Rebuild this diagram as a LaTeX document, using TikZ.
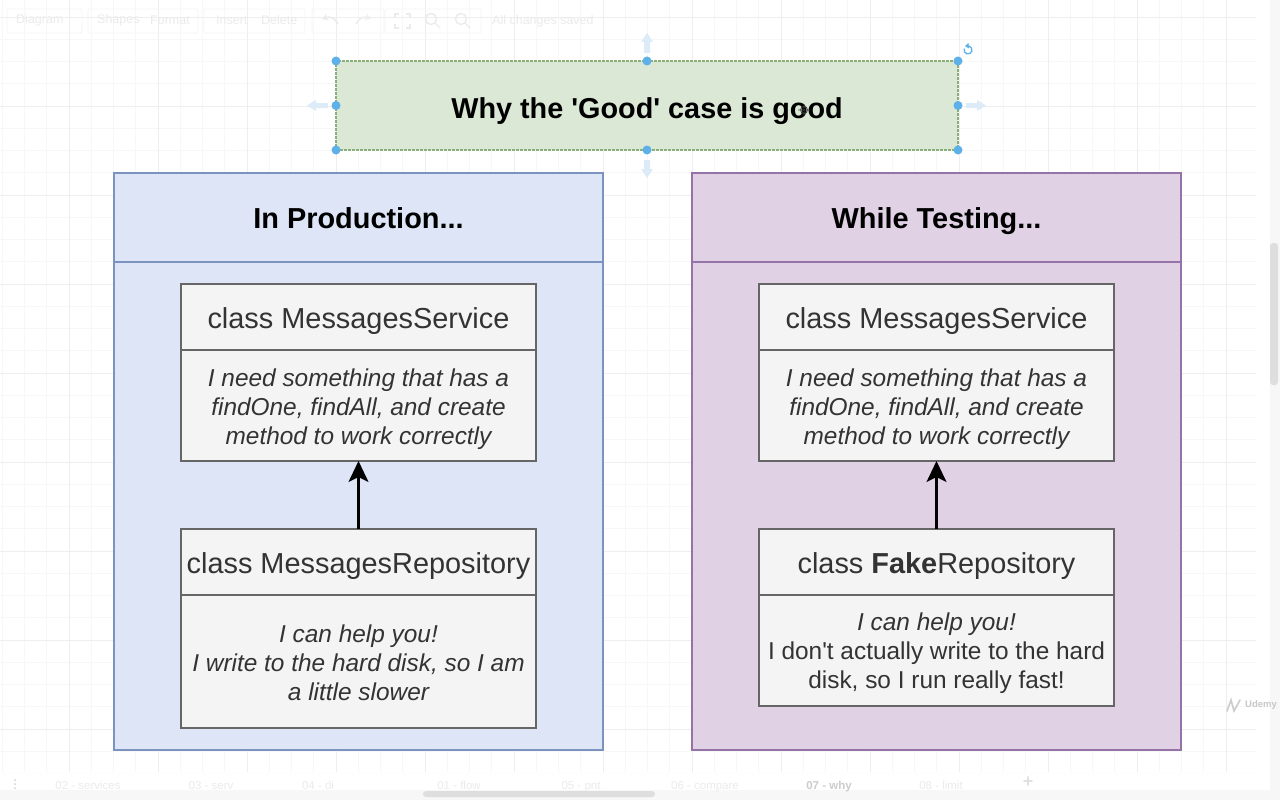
\documentclass[tikz,border=0pt]{standalone}
\usepackage{fontspec}
\setmainfont{Liberation Sans}
\usetikzlibrary{arrows.meta,positioning}
\definecolor{gridminor}{HTML}{F7F7F7}
\definecolor{gridmajor}{HTML}{EEEEEE}
\definecolor{uitext}{HTML}{EBEBEB}
\definecolor{handleblue}{HTML}{5DB1E8}
\definecolor{ghost}{HTML}{DCEBF7}
\definecolor{HeadBlueS}{HTML}{7C93BF}
\definecolor{HeadBlueF}{HTML}{DDE5F7}
\definecolor{HeadPurpleS}{HTML}{9673A6}
\definecolor{HeadPurpleF}{HTML}{E0D2E4}
\definecolor{ClassS}{HTML}{666666}
\definecolor{ClassF}{HTML}{F4F4F4}
\definecolor{ClassT}{HTML}{333333}
\definecolor{GreenS}{HTML}{8AAF78}
\definecolor{GreenF}{HTML}{DCE8D6}
\tikzset{
  boxbase/.style={draw, line width=2pt, anchor=north west, inner sep=0pt, outer sep=0pt, align=center},
  titlebox/.style={boxbase, text=black, font=\fontsize{28.9}{32}\selectfont\bfseries, text height=21pt, text depth=0pt},
  headblue/.style={titlebox, draw=HeadBlueS, fill=HeadBlueF},
  headpurple/.style={titlebox, draw=HeadPurpleS, fill=HeadPurpleF},
  classbox/.style={boxbase, draw=ClassS, fill=ClassF, text=ClassT, minimum width=355pt,
     font=\fontsize{28.9}{32}\selectfont, text height=22pt, text depth=0pt},
  notebox/.style={boxbase, draw=ClassS, fill=ClassF, text=ClassT, minimum width=355pt,
     font=\fontsize{24.4}{29}\selectfont\itshape},
  handle/.style={circle, fill=handleblue, minimum size=9pt, inner sep=0pt},
  uilabel/.style={text=uitext, font=\fontsize{12.5}{14}\selectfont, inner sep=0pt},
  tablabel/.style={uilabel, anchor=base, font=\fontsize{11.5}{13}\selectfont},
  conn/.style={-{Stealth[length=21pt,width=20pt,inset=5pt]}, line width=2.2pt, black},
  ghostarrow/.style={fill=ghost, draw=none}
}
\begin{document}
\begin{tikzpicture}[x=1pt,y=-1pt]
\useasboundingbox (0,0) rectangle (1280,800);
\fill[white] (0,0) rectangle (1280,800);
% grid
\foreach \k in {0,...,56}{\draw[gridminor,line width=.8pt] ({-20+22.25*\k},0) -- ({-20+22.25*\k},772);}
\foreach \k in {0,...,34}{\draw[gridminor,line width=.8pt] (0,{17+22.25*\k}) -- (1256,{17+22.25*\k});}
\foreach \k in {0,...,13}{\draw[gridmajor,line width=.8pt] ({69+89*\k},0) -- ({69+89*\k},772);}
\foreach \k in {0,...,8}{\draw[gridmajor,line width=.8pt] (0,{17+89*\k}) -- (1256,{17+89*\k});}
% scroll bars and bottom strip
\fill[white,opacity=.8] (0,772) rectangle (1280,800);
\fill[white] (1256,0) rectangle (1280,800);
\fill[gridminor] (0,790) rectangle (1280,800);
\fill[gridminor] (1270,0) rectangle (1280,800);
\fill[black!13,rounded corners=3pt] (423,791) rectangle (655,797);
\fill[black!13,rounded corners=3pt] (1270,243) rectangle (1278,385);
% toolbar boxes
\foreach \a/\b in {7/82,88/198,204/305,312/384,385/481}{\draw[black!4,rounded corners=2pt,line width=.8pt] (\a,9) rectangle (\b,33);}
\node[uilabel,anchor=west] (tbDiagram) at (16,20) {Diagram};
\node[uilabel,anchor=west] (tbShapes) at (97,20) {Shapes};
\node[uilabel,anchor=west] (tbFormat) at (150,20) {Format};
\node[uilabel,anchor=west] (tbInsert) at (216,20) {Insert};
\node[uilabel,anchor=west] (tbDelete) at (261,20) {Delete};
\node[uilabel,anchor=west] (tbSaved) at (492,21) {All changes saved};
\draw[uitext,line width=1.4pt] (395,18) -- (395,14) -- (399,14) (406,14) -- (410,14) -- (410,18) (410,24) -- (410,28) -- (406,28) (399,28) -- (395,28) -- (395,24);
\draw[uitext,line width=1.4pt] (431,19) circle (5.5pt) (435,23) -- (440,28);
\draw[uitext,line width=1.4pt] (461,19) circle (5.5pt) (465,23) -- (470,28);
\draw[uitext,line width=1.6pt,-{Stealth[length=6pt,width=7pt]}] (338,24) .. controls (335,18) and (330,16) .. (322,19);
\draw[gridmajor,line width=1.6pt,-{Stealth[length=6pt,width=7pt]}] (356,24) .. controls (359,18) and (364,16) .. (371,19);
% tabs
\foreach \n/\x/\t in {tabA/88/02 - services,tabB/211/03 - serv,tabC/318/04 - di,tabD/459/01 - flow,tabE/581/05 - pnt,tabF/705/06 - compare,tabH/941/08 - limit}{
  \node[tablabel] (\n) at (\x,789) {\t};}
\node[tablabel,text=black!20,font=\fontsize{11.5}{13}\selectfont\bfseries] (tabG) at (829,789) {07 - why};
\node[uilabel,text=black!12,font=\fontsize{18}{18}\selectfont\bfseries] (tabPlus) at (1028,782) {+};
\foreach \y in {780,784,788}{\fill[black!18] (15,\y) circle (1pt);}
\node[uilabel,text=black!22,font=\fontsize{9.5}{10}\selectfont\bfseries,anchor=west] (udemy) at (1245,705.5) {Udemy};
\draw[black!20,line width=1.6pt,line cap=round] (1227,711) -- (1231,700) -- (1234,711) -- (1240,700);
% title
\node[boxbase,draw=GreenS,fill=GreenF,dashed,dash pattern=on 3pt off 1pt,minimum width=622pt,minimum height=89pt,
   text=black,font=\fontsize{28.8}{34}\selectfont\bfseries,text height=25pt,text depth=0pt] (title) at (336,61) {Why the \textquotesingle Good\textquotesingle{} case is good};
% left panel
\node[headblue,minimum width=489pt,minimum height=89pt] (prodHead) at (114,173) {In Production...};
\node[boxbase,draw=HeadBlueS,fill=HeadBlueF,minimum width=489pt,minimum height=488pt] (prodBody) at (114,262) {};
\node[classbox,minimum height=66pt] (prodSvc) at (181,284) {class MessagesService};
\node[notebox,minimum height=111pt] (prodSvcNote) at (181,350) {\rule{0pt}{26pt}I need something that has a\\findOne, findAll, and create\\method to work correctly};
\node[classbox,minimum height=66pt] (prodRepo) at (181,529) {class MessagesRepository};
\node[notebox,minimum height=133pt] (prodRepoNote) at (181,595) {\rule{0pt}{20pt}I can help you!\\I write to the hard disk, so I am\\a little slower};
% right panel
\node[headpurple,minimum width=489pt,minimum height=89pt] (testHead) at (692,173) {While Testing...};
\node[boxbase,draw=HeadPurpleS,fill=HeadPurpleF,minimum width=489pt,minimum height=488pt] (testBody) at (692,262) {};
\node[classbox,minimum height=66pt] (testSvc) at (759,284) {class MessagesService};
\node[notebox,minimum height=111pt] (testSvcNote) at (759,350) {\rule{0pt}{26pt}I need something that has a\\findOne, findAll, and create\\method to work correctly};
\node[classbox,minimum height=66pt] (testRepo) at (759,529) {class \textbf{Fake}Repository};
\node[notebox,minimum height=111pt] (testRepoNote) at (759,595) {\rule{0pt}{24pt}I can help you!\\\upshape I don\textquotesingle t actually write to the hard\\\upshape disk, so I run really fast!};
% connectors
\draw[conn] (prodRepo.north) -- (prodSvcNote.south);
\draw[conn] (testRepo.north) -- (testSvcNote.south);
% selection handles
\foreach \n/\x/\y in {h1/336/61,h2/647/61,h3/958/61,h4/336/105.5,h5/958/105.5,h6/336/150,h7/647/150,h8/958/150}{
  \node[handle] (\n) at (\x,\y) {};}
% ghost arrows
\fill[ghostarrow] (647,33) -- (653,42) -- (650,42) -- (650,53) -- (644,53) -- (644,42) -- (641,42) -- cycle;
\fill[ghostarrow] (647,178) -- (653,169) -- (650,169) -- (650,160) -- (644,160) -- (644,169) -- (641,169) -- cycle;
\fill[ghostarrow] (307,105.5) -- (316,100) -- (316,103) -- (328,103) -- (328,108) -- (316,108) -- (316,111) -- cycle;
\fill[ghostarrow] (986,105.5) -- (977,100) -- (977,103) -- (966,103) -- (966,108) -- (977,108) -- (977,111) -- cycle;
% rotate icon
\draw[handleblue,line width=1.3pt] (966,46.5) arc[start angle=120,end angle=-200,radius=4pt];
\fill[handleblue] (968.5,43) -- (965,46) -- (969,48.5) -- cycle;
% cursor
\draw[black!75,line width=.8pt] (804,110) circle (3.5pt) (798,110) -- (810,110) (804,104) -- (804,116);
\end{tikzpicture}
\end{document}
